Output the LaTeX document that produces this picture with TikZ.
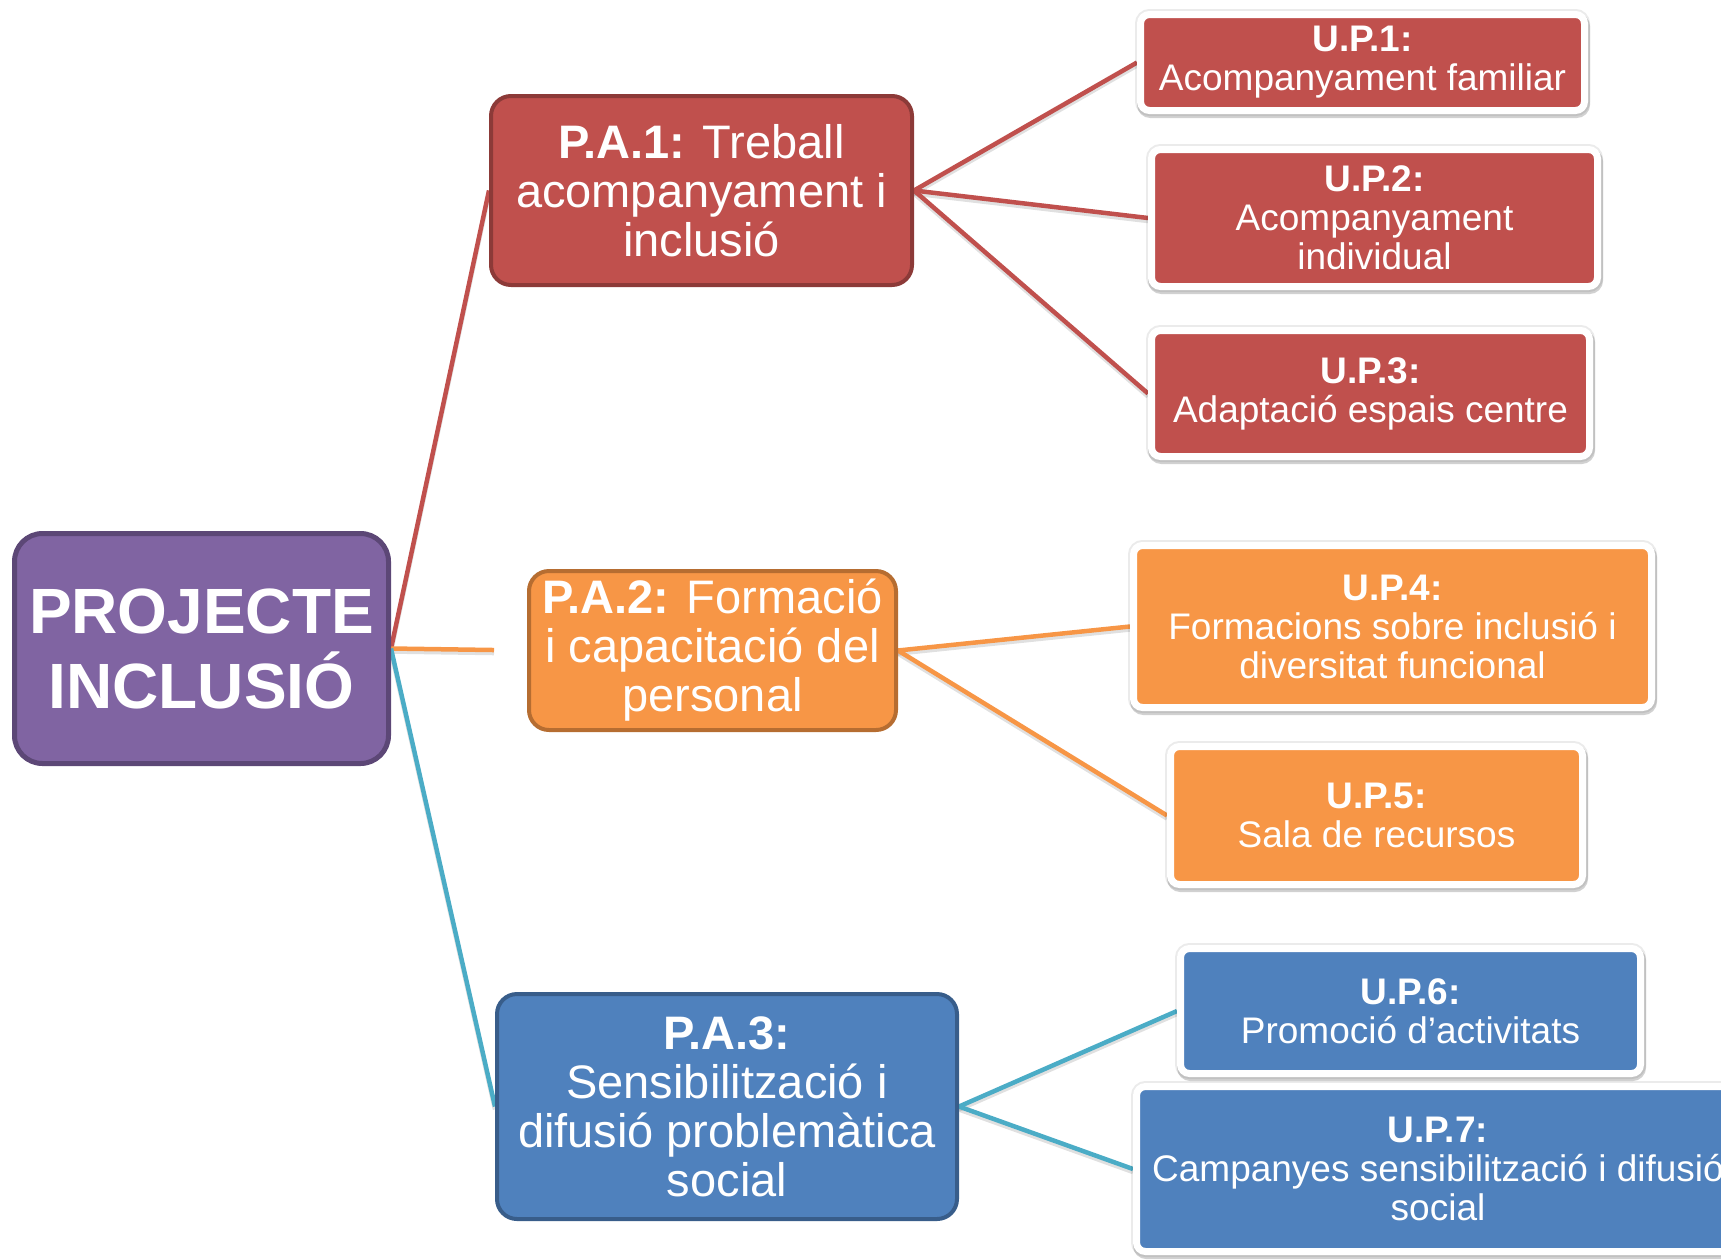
\documentclass[tikz,border=0pt]{standalone}
\usepackage{fontspec}
\setmainfont{Liberation Sans}
\usetikzlibrary{shadows,backgrounds}
\definecolor{purplefill}{HTML}{8064A2}
\definecolor{purpleline}{HTML}{5C4776}
\definecolor{redfill}{HTML}{C0504D}
\definecolor{redline}{HTML}{8C3A38}
\definecolor{orangefill}{HTML}{F79646}
\definecolor{orangeline}{HTML}{B66D31}
\definecolor{bluefill}{HTML}{4F81BD}
\definecolor{blueline}{HTML}{385D8A}
\definecolor{tealline}{HTML}{4BACC6}
\begin{document}
\begin{tikzpicture}[x=1pt,y=-1pt,
  rootbox/.style={draw=purpleline, fill=purplefill, line width=5pt, rounded corners=28pt,
    text=white, align=center, font=\fontsize{64}{75}\selectfont\bfseries, inner sep=0pt},
  pabox/.style={line width=4pt, rounded corners=20pt, text=white, align=center,
    font=\fontsize{47}{49}\selectfont, inner sep=0pt},
  upbox/.style={draw=white, line width=7pt, rounded corners=9pt, text=white, align=center,
    font=\fontsize{37}{39}\selectfont, inner sep=0pt,
    preaction={draw=black, line width=11pt, opacity=0.08},
    preaction={draw=black, line width=9pt, opacity=0.18, transform canvas={xshift=1pt, yshift=-3pt}}},
  link/.style={line width=4.5pt,
    preaction={draw=black, opacity=0.12, line width=4.5pt, transform canvas={yshift=-3pt}}}
]
\useasboundingbox (0,0) rectangle (1721,1259);

\node[rootbox, minimum width=374pt, minimum height=230pt] (root) at (201.5,648.5)
  {PROJECTE\\INCLUSIÓ};

\node[pabox, draw=redline, fill=redfill, minimum width=421pt, minimum height=189pt] (pa1) at (701.5,190.5)
  {\textbf{P.A.1:} Treball\\acompanyament i\\inclusió};
\node[pabox, draw=orangeline, fill=orangefill, minimum width=367pt, minimum height=159pt] (pa2) at (712.5,650.5)
  {\textbf{P.A.2:} Formació\\i capacitació del\\personal};
\node[pabox, draw=blueline, fill=bluefill, minimum width=460pt, minimum height=225pt] (pa3) at (727,1106.5)
  {\textbf{P.A.3:}\\Sensibilització i\\difusió problemàtica\\social};

\node[upbox, fill=redfill, minimum width=444pt, minimum height=96pt] (up1) at (1362.5,62.5)
  {\textbf{U.P.1:}\\Acompanyament familiar};
\node[upbox, fill=redfill, minimum width=446pt, minimum height=137pt] (up2) at (1374.5,218)
  {\textbf{U.P.2:}\\Acompanyament\\individual};
\node[upbox, fill=redfill, minimum width=438pt, minimum height=126pt] (up3) at (1370.5,393.5)
  {\textbf{U.P.3:}\\Adaptació espais centre};
\node[upbox, fill=orangefill, minimum width=518pt, minimum height=162pt] (up4) at (1392.5,626.5)
  {\textbf{U.P.4:}\\Formacions sobre inclusió i\\diversitat funcional};
\node[upbox, fill=orangefill, minimum width=412pt, minimum height=138pt] (up5) at (1376.5,815.5)
  {\textbf{U.P.5:}\\Sala de recursos};
\node[upbox, fill=bluefill, minimum width=460pt, minimum height=125pt] (up6) at (1410.5,1011)
  {\textbf{U.P.6:}\\Promoció d’activitats};
\node[upbox, fill=bluefill, minimum width=603pt, minimum height=165pt] (up7) at (1438,1169)
  {\textbf{U.P.7:}\\Campanyes sensibilització i difusió\\social};

\begin{pgfonlayer}{background}
\draw[link, redfill] (root.east) -- (pa1.west);
\draw[link, orangefill, shorten >=33pt] (root.east) -- (pa2.west);
\draw[link, tealline] (root.east) -- (pa3.west);
\draw[link, redfill] (pa1.east) -- (up1.west);
\draw[link, redfill] (pa1.east) -- (up2.west);
\draw[link, redfill] (pa1.east) -- (up3.west);
\draw[link, orangefill] (pa2.east) -- (up4.west);
\draw[link, orangefill] (pa2.east) -- (up5.west);
\draw[link, tealline] (pa3.east) -- (up6.west);
\draw[link, tealline] (pa3.east) -- (up7.west);
\end{pgfonlayer}
\end{tikzpicture}
\end{document}
